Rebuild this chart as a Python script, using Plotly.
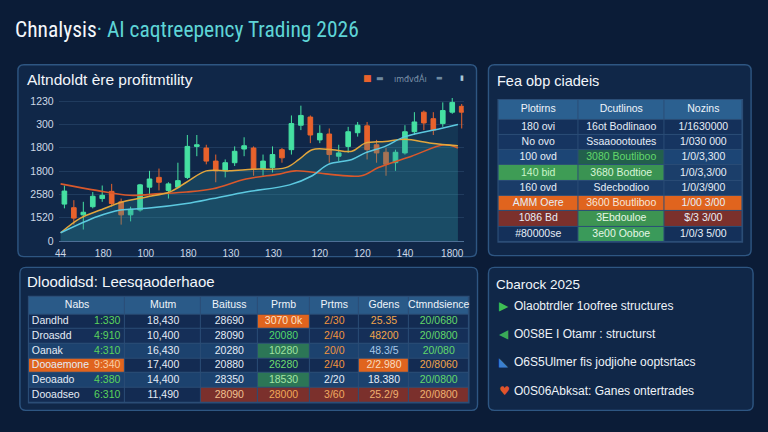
import plotly.graph_objects as go

W, H = 768, 432

# ---------------- data ----------------
candle_open = [791, 714, 560, 735, 910, 1064, 840, 560, 665, 1155, 1365, 1085, 1155, 1365, 2030,
               1995, 1715, 1505, 1680, 1974, 1995, 1540, 1575, 1960, 1960, 2485, 2660, 2170, 2296,
               1820, 2030, 2324, 2471, 2065, 1904, 1680, 1890, 2345, 2765, 2625, 2520, 2765, 2891]
candle_close = [1071, 490, 616, 959, 980, 805, 560, 679, 1204, 1330, 1260, 1225, 1295, 2030, 2065,
                1715, 1505, 1680, 1925, 2044, 1540, 1715, 1855, 1785, 2520, 2695, 2275, 2310, 1855,
                1890, 2345, 2485, 1960, 1890, 1645, 1904, 2345, 2555, 2534, 2380, 2800, 2975, 2765]
candle_high = [1190, 875, 840, 1050, 1190, 1225, 910, 735, 1225, 1505, 1554, 1260, 1680, 2275, 2275,
               2065, 1855, 1750, 2030, 2226, 2030, 1855, 2030, 1995, 2695, 2905, 2695, 2485, 2415,
               2065, 2450, 2555, 2555, 2170, 1995, 1960, 2485, 2765, 2800, 2765, 2975, 3185, 2940]
candle_low = [700, 350, 245, 700, 840, 735, 350, 420, 630, 980, 1085, 910, 1120, 1330, 1820,
              1645, 1260, 1365, 1610, 1820, 1400, 1400, 1470, 1680, 1855, 2380, 2100, 2100, 1680,
              1715, 1890, 2240, 1750, 1680, 1400, 1505, 1855, 2275, 2380, 2275, 2450, 2730, 2415]
candle_idx = list(range(len(candle_open)))

ma_orange_x = [-0.4, 3.4, 6.9, 10.1, 12.9, 15.7, 19.2, 22.7, 24.4, 27.9, 31.4, 33.2, 36.7, 40.2, 41.6]
ma_orange = [1225, 1085, 980, 1015, 1050, 1120, 1330, 1435, 1505, 1435, 1400, 1575, 1820, 2065, 1995]
ma_gold_x = [-0.4, 1.7, 3.8, 6.2, 8.7, 11.1, 12.9, 15.0, 17.4, 19.9, 23.4, 24.8, 26.2, 28.3, 30.4,
             31.8, 33.9, 36.0, 38.8, 41.6]
ma_gold = [175, 490, 665, 840, 945, 1050, 1260, 1505, 1505, 1540, 1575, 1750, 1960, 1960, 1925,
           2100, 2135, 2184, 2100, 2044]
ma_cyan_x = [-0.4, 3.5, 5.9, 8.7, 12.9, 15.7, 19.2, 23.8, 26.2, 27.9, 30.4, 31.8, 33.9, 36.0, 39.8, 41.6]
ma_cyan = [175, 525, 665, 700, 805, 910, 1050, 1204, 1400, 1645, 1750, 1890, 2030, 2240, 2415, 2500]

y_tickvals = [0, 500, 1000, 1500, 2000, 2500, 3000]
y_ticktext = ["0", "1520", "2580", "1800", "1800", "300", "1230"]
x_tickvals = [-0.4, 4.1, 8.6, 13.1, 17.6, 22.1, 27.0, 31.5, 36.0, 41.0]
x_ticktext = ["44", "180", "100", "180", "130", "130", "120", "120", "140", "1800"]

# top-right table
t1_header = ["Plotirns", "Dcutlinos", "Nozins"]
t1_col1 = ["180 ovi", "No ovo", "100 ovd", "140 bid", "160 ovd", "AMM Oere", "1086 Bd", "#80000se"]
t1_col2 = ["16ot Bodlinaoo", "Ssaaoootoutes", "3080 Boutliboo", "3680 Bodtioe", "Sdecbodioo",
           "3600 Boutliboo", "3Ebdouloe", "3e00 Ooboe"]
t1_col3 = ["1/1630000", "1/030 000", "1/0/3,300", "1/0/3,3/00", "1/0/3/900", "1/00 3/00",
           "$/3 3/00", "1/0/3 5/00"]

# bottom table
t2_header = ["Nabs", "Mutm", "Baituss", "Prmb", "Prtms", "Gdens", "Ctmndsience"]
t2_names = ["Dandhd", "Droasdd", "Oanak", "Dooaemone", "Deoaado", "Dooadseo"]
t2_namevals = ["1:330", "4:910", "4:310", "9:340", "4:380", "6:310"]
t2_col2 = ["18,430", "10,400", "16,430", "17,400", "14,400", "11,490"]
t2_col3 = ["28690", "28090", "20280", "20880", "28350", "28090"]
t2_col4 = ["3070 0k", "20080", "10280", "26280", "18530", "28000"]
t2_col5 = ["2/30", "2/40", "20/0", "2/40", "2/20", "3/60"]
t2_col6 = ["25.35", "48200", "48.3/5", "2/2.980", "18.380", "25.2/9"]
t2_col7 = ["20/0680", "20/0800", "20/080", "20/8060", "20/0800", "20/0800"]

notes = ["Olaobtrdler 1oofree structures", "O0S8E I Otamr : structurst",
         "O6S5Ulmer fis jodjiohe ooptsrtacs", "O0S06Abksat: Ganes ontertrades"]
note_icons = ["▶", "◀", "◣", "♥"]

# ---------------- styling ----------------
BG = "#0b1c37"
PANEL = "rgba(22,50,88,0.55)"
BORDER = "#2e5682"
GREEN = "#45e0a2"
ORANGE = "#e8622c"
FONT = "Liberation Sans, Arial, sans-serif"

def px(x):
    return x / W

def py(y):
    return 1 - y / H

def rrect(x0, y0, x1, y1, r=6):
    rx, ry = r / W, r / H
    X0, X1 = px(x0), px(x1)
    Y0, Y1 = py(y1), py(y0)
    return (f"M {X0+rx},{Y0} L {X1-rx},{Y0} Q {X1},{Y0} {X1},{Y0+ry} "
            f"L {X1},{Y1-ry} Q {X1},{Y1} {X1-rx},{Y1} L {X0+rx},{Y1} "
            f"Q {X0},{Y1} {X0},{Y1-ry} L {X0},{Y0+ry} Q {X0},{Y0} {X0+rx},{Y0} Z")

def cumsum(vals):
    out = [0]
    for v in vals:
        out.append(out[-1] + v)
    return out

fig = go.Figure()

# ---------------- candlestick chart ----------------
fig.add_trace(go.Scatter(x=ma_gold_x, y=ma_gold, mode="lines", line=dict(width=0, shape="spline"),
                         fill="tozeroy", fillcolor="rgba(48,150,160,0.24)", hoverinfo="skip",
                         showlegend=False))
fig.add_trace(go.Scatter(x=ma_cyan_x, y=ma_cyan, mode="lines", line=dict(width=0, shape="spline"),
                         fill="tozeroy", fillcolor="rgba(48,150,160,0.14)", hoverinfo="skip",
                         showlegend=False))
fig.add_trace(go.Candlestick(
    x=candle_idx, open=candle_open, high=candle_high, low=candle_low, close=candle_close,
    increasing=dict(line=dict(color=GREEN, width=1), fillcolor=GREEN),
    decreasing=dict(line=dict(color=ORANGE, width=1), fillcolor=ORANGE),
    whiskerwidth=0, showlegend=False))
fig.add_trace(go.Scatter(x=ma_orange_x, y=ma_orange, mode="lines",
                         line=dict(color="#d9582b", width=1.6, shape="spline"), showlegend=False))
fig.add_trace(go.Scatter(x=ma_gold_x, y=ma_gold, mode="lines",
                         line=dict(color="#e3a63c", width=1.5, shape="spline"), showlegend=False))
fig.add_trace(go.Scatter(x=ma_cyan_x, y=ma_cyan, mode="lines",
                         line=dict(color="#5cc9e0", width=1.5, shape="spline"), showlegend=False))

# ---------------- tables as heatmap cells + text ----------------
palette = []

def cidx(c):
    if c not in palette:
        palette.append(c)
    return palette.index(c)

def add_table(axn, colw, head_h, row_h, header, columns, fills, fcolors, head_fill, special=None):
    nrows = len(columns[0])
    xe = cumsum(colw)
    ye = cumsum([head_h] + [row_h] * nrows)
    z = [[cidx(head_fill)] * len(colw)]
    for r in range(nrows):
        z.append([cidx(fills[c][r]) for c in range(len(colw))])
    xs, ys, ts, cs = [], [], [], []
    for c in range(len(colw)):
        xc = (xe[c] + xe[c + 1]) / 2
        xs.append(xc); ys.append((ye[0] + ye[1]) / 2); ts.append(header[c]); cs.append("#eef4fa")
        if special is not None and c == 0:
            continue
        for r in range(nrows):
            xs.append(xc); ys.append((ye[r + 1] + ye[r + 2]) / 2)
            ts.append(columns[c][r]); cs.append(fcolors[c][r])
    return dict(z=z, xe=xe, ye=ye, xs=xs, ys=ys, ts=ts, cs=cs, axn=axn)

d1, d2, lt, gr, gd, org, red = "#14305a", "#163561", "#1c4575", "#3e9c55", "#22604c", "#e0641e", "#7b302c"
t1_fill = [
    [d1, d2, lt, gr, "#1a3c68", org, red, d1],
    [d1, d2, gd, "#3a9352", "#1a3c68", org, "#3d9452", "#3a9a5a"],
    [d1, d2, lt, "#1b3e6a", "#1a3c68", org, red, d1],
]
t1_font = [
    ["#e6eef7"] * 3 + ["#c8f5c8"] + ["#e6eef7"] * 4,
    ["#e6eef7", "#e6eef7", "#62d86a", "#d8f5d8", "#e6eef7", "#f7e6d8", "#e6f7e6", "#e6f7e6"],
    ["#e6eef7"] * 8,
]
T1_COLW = [80, 87, 78]
T1_HEAD, T1_ROW = 20, 15.6
tab1 = add_table("2", T1_COLW, T1_HEAD, T1_ROW, t1_header, [t1_col1, t1_col2, t1_col3],
                 t1_fill, t1_font, "#2b6090")

b1, b2, b3 = "#132b52", "#152f58", "#1c426e"
rows_bg = [b1, b2, b3, b1, b3, b1]
g2 = "#2c7656"
t2_fill = [
    [b1, b2, b3, org, b3, b1],
    rows_bg,
    [b1, b2, b3, b1, b3, red],
    [org, b2, g2, b1, g2, red],
    [b1, b2, b3, b1, b3, red],
    [b1, b2, b3, org, b3, red],
    [b1, b2, b3, b1, b3, red],
]
W_ = "#e4ecf6"
t2_fcol = [
    [W_] * 6,
    [W_] * 6,
    [W_] * 5 + ["#f2c090"],
    ["#fbe3c8", "#52d86a", "#9fe39f", "#6fdc6f", "#a5e6a5", "#f0a858"],
    ["#f0933e", "#f0933e", "#f0933e", "#f0933e", "#e4ecf6", "#f0aa60"],
    ["#f0a54a", "#f0a54a", "#a8c8e8", "#f8dcc0", "#e4ecf6", "#f0b070"],
    ["#62d86a", "#62d86a", "#62d86a", "#f0a54a", "#62d86a", "#f0b070"],
]
t2_valcol = ["#5ad45c", "#5ad45c", "#5ad45c", "#f8cfa6", "#5ad45c", "#5ad45c"]
T2_COLW = [97, 76, 57, 52, 50, 50, 60]
T2_HEAD, T2_ROW = 18, 15
tab2 = add_table("3", T2_COLW, T2_HEAD, T2_ROW, t2_header,
                 [t2_names, t2_col2, t2_col3, t2_col4, t2_col5, t2_col6, t2_col7],
                 t2_fill, t2_fcol, "#2a5a88", special=True)

n = len(palette)
cscale = []
for i, c in enumerate(palette):
    cscale.append([i / n, c])
    cscale.append([(i + 1) / n, c])

for tab in (tab1, tab2):
    a = tab["axn"]
    fig.add_trace(go.Heatmap(z=tab["z"], x=tab["xe"], y=tab["ye"], colorscale=cscale,
                             zmin=-0.5, zmax=n - 0.5, showscale=False, xgap=1, ygap=1,
                             hoverinfo="skip", xaxis="x" + a, yaxis="y" + a))
    fig.add_trace(go.Scatter(x=tab["xs"], y=tab["ys"], text=tab["ts"], mode="text",
                             textposition="middle center", cliponaxis=False,
                             textfont=dict(color=tab["cs"], size=10.5, family=FONT),
                             hoverinfo="skip", showlegend=False, xaxis="x" + a, yaxis="y" + a))

# first column of bottom table: name left, value right
ye2 = tab2["ye"]
row_c = [(ye2[r + 1] + ye2[r + 2]) / 2 for r in range(len(t2_names))]
fig.add_trace(go.Scatter(x=[3] * len(t2_names), y=row_c, text=t2_names, mode="text",
                         textposition="middle right", cliponaxis=False,
                         textfont=dict(color="#e4ecf6", size=10.5, family=FONT),
                         hoverinfo="skip", showlegend=False, xaxis="x3", yaxis="y3"))
fig.add_trace(go.Scatter(x=[T2_COLW[0] - 5] * len(t2_names), y=row_c, text=t2_namevals, mode="text",
                         textposition="middle left", cliponaxis=False,
                         textfont=dict(color=t2_valcol, size=10.5, family=FONT),
                         hoverinfo="skip", showlegend=False, xaxis="x3", yaxis="y3"))

# ---------------- layout ----------------
T1_BOX = (497, 99, 742)
T2_BOX = (25, 300, 467)
t1_bottom = T1_BOX[1] + T1_HEAD + T1_ROW * len(t1_col1)
t2_bottom = T2_BOX[1] + T2_HEAD + T2_ROW * len(t2_names)

shapes = []
for (x0, y0, x1, y1) in [(14, 63, 475, 259), (487, 63, 751, 258), (16, 270, 476, 416), (487, 270, 753, 416)]:
    shapes.append(dict(type="path", path=rrect(x0, y0, x1, y1), xref="paper", yref="paper",
                       fillcolor=PANEL, line=dict(color=BORDER, width=1.4), layer="below"))
for (x0, y0, x1), yb in [(T1_BOX, t1_bottom), (T2_BOX, t2_bottom)]:
    shapes.append(dict(type="rect", x0=px(x0 - 1), x1=px(x1 + 1), y0=py(yb + 1), y1=py(y0 - 1),
                       xref="paper", yref="paper", fillcolor="#2b4d76", line=dict(width=0),
                       layer="below"))

ann = []
ann.append(dict(text="Chnalysis<span style='color:#5ed4d6'>· AI caqtreepency Trading 2026</span>",
                x=px(9), y=py(27), xref="paper", yref="paper", xanchor="left", yanchor="middle",
                showarrow=False,
                font=dict(size=21.5, color="#f4f7fb", family="Liberation Sans Narrow, Roboto Condensed, Roboto, sans-serif")))
for txt, x, y, sz in [("Altndoldt ère profitmtility", 21, 78, 15.5), ("Fea obp ciadeis", 494, 80, 14.5),
                      ("Dloodidsd: Leesqaoderhaoe", 21, 284, 15), ("Cbarock 2025", 493, 287, 13.5)]:
    ann.append(dict(text=txt, x=px(x), y=py(y), xref="paper", yref="paper", xanchor="left",
                    yanchor="middle", showarrow=False,
                    font=dict(size=sz, color="#f2f6fb", family=FONT)))

icon_colors = ["#3dbf55", "#3aaa58", "#3b7fd0", "#e0542a"]
for i, (t, ic) in enumerate(zip(notes, note_icons)):
    yy = [309, 338, 367, 396][i]
    ann.append(dict(text=ic, x=px(496), y=py(yy), xref="paper", yref="paper", xanchor="left",
                    yanchor="middle", showarrow=False, font=dict(size=12, color=icon_colors[i], family="DejaVu Sans")))
    ann.append(dict(text=t, x=px(511), y=py(yy), xref="paper", yref="paper", xanchor="left",
                    yanchor="middle", showarrow=False, font=dict(size=12, color="#eef3f8", family=FONT)))

for txt, x, col, sz in [("■", 359, ORANGE, 9), ("▬", 372, "#6f8aa0", 8), ("ımđvđÁı", 390, "#7d93a8", 8),
                        ("▬", 432, "#6f8aa0", 7), ("▮", 456, "#a8c8d8", 7)]:
    ann.append(dict(text=txt, x=px(x), y=py(77), xref="paper", yref="paper", xanchor="left",
                    yanchor="middle", showarrow=False, font=dict(size=sz, color=col, family="DejaVu Sans")))

hidden = dict(visible=False, showgrid=False, zeroline=False, fixedrange=True)
fig.update_layout(
    width=W, height=H, margin=dict(l=0, r=0, t=0, b=0),
    paper_bgcolor=BG, plot_bgcolor="rgba(0,0,0,0)",
    shapes=shapes, annotations=ann, showlegend=False,
    xaxis=dict(domain=[px(55), px(462)], range=[-0.6, 42.2], rangeslider=dict(visible=False),
               tickvals=x_tickvals, ticktext=x_ticktext, showgrid=False, zeroline=False,
               showline=True, linecolor="#4d6f96", linewidth=1, ticks="", ticklabelstandoff=3,
               tickfont=dict(size=10, color="#cdd8e6", family=FONT)),
    yaxis=dict(domain=[py(243), py(97)], range=[0, 3070], tickvals=y_tickvals, ticktext=y_ticktext,
               showgrid=True, gridcolor="rgba(90,130,175,0.22)", gridwidth=1, zeroline=False,
               ticks="", ticklabelstandoff=4, tickfont=dict(size=10.5, color="#cdd8e6", family=FONT)),
    xaxis2=dict(hidden, domain=[px(T1_BOX[0]), px(T1_BOX[2])], range=[0, sum(T1_COLW)], anchor="y2"),
    yaxis2=dict(hidden, domain=[py(t1_bottom), py(T1_BOX[1])], range=[T1_HEAD + T1_ROW * len(t1_col1), 0],
                anchor="x2"),
    xaxis3=dict(hidden, domain=[px(T2_BOX[0]), px(T2_BOX[2])], range=[0, sum(T2_COLW)], anchor="y3"),
    yaxis3=dict(hidden, domain=[py(t2_bottom), py(T2_BOX[1])], range=[T2_HEAD + T2_ROW * len(t2_names), 0],
                anchor="x3"),
    font=dict(family=FONT),
)

fig.write_html("out.html")
